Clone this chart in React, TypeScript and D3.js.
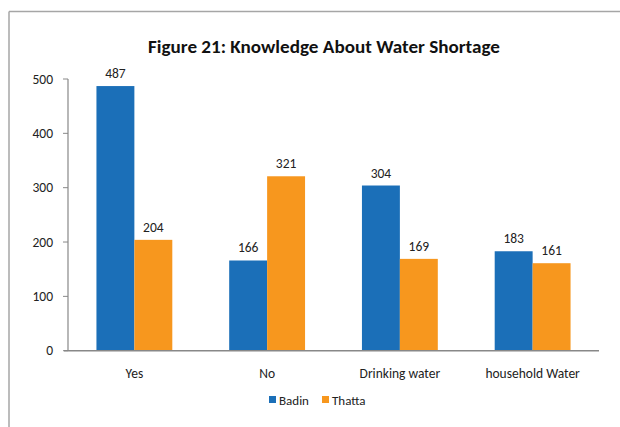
import React from "react";
import * as d3 from "d3";

const categories = ["Yes", "No", "Drinking water", "household Water"];
const seriesNames = ["Badin", "Thatta"];
const badin = [487, 166, 304, 183];
const thatta = [204, 321, 169, 161];
const yTicks = [0, 100, 200, 300, 400, 500];
const colors = ["#1b6fb8", "#f7971e"];
const title = "Figure 21: Knowledge About Water Shortage";

export default function App() {
  const W = 620, H = 427;
  const x0 = 68, x1 = 599, yTop = 79, yBot = 350.7;
  const x = d3.scaleBand<string>().domain(categories).range([x0, x1]);
  const y = d3.scaleLinear().domain([0, 500]).range([yBot, yTop]);
  const bw = x.bandwidth() / 3.5;
  const series = [badin, thatta];
  const font = "Carlito, Calibri, 'Open Sans', 'Noto Sans', sans-serif";
  return (
    <svg width={W} height={H} style={{ position: "absolute", left: 0, top: 0 }} fontFamily={font}>
      <rect x={0} y={0} width={W} height={H} fill="#fff" />
      <line x1={9} y1={11.5} x2={W} y2={11.5} stroke="#a6a6a6" strokeWidth={1.5} />
      <line x1={9} y1={11.5} x2={9} y2={H} stroke="#a6a6a6" strokeWidth={1.5} />
      <text x={324} y={53} textAnchor="middle" fontSize={18} fontWeight="bold" fill="#111"
        textLength={352} lengthAdjust="spacingAndGlyphs">{title}</text>
      {yTicks.map((t) => (
        <g key={t}>
          <line x1={63} x2={x0} y1={y(t)} y2={y(t)} stroke="#888" />
          <text x={53} y={y(t) + 4.5} textAnchor="end" fontSize={13.5} fill="#222">{t}</text>
        </g>
      ))}
      {categories.map((c, i) => {
        const cx = (x(c) as number) + x.bandwidth() / 2;
        return (
          <g key={c}>
            {series.map((s, j) => {
              const bx = cx - bw + j * bw;
              return (
                <g key={j}>
                  <rect x={bx} y={y(s[i])} width={bw} height={yBot - y(s[i])} fill={colors[j]} />
                  <text x={bx + bw / 2} y={y(s[i]) - 8} textAnchor="middle" fontSize={13.5} fill="#222">{s[i]}</text>
                </g>
              );
            })}
            <text x={cx} y={378} textAnchor="middle" fontSize={13.5} fill="#222">{c}</text>
          </g>
        );
      })}
      <line x1={x0} x2={x0} y1={yTop} y2={yBot} stroke="#888" strokeWidth={1.2} />
      <line x1={x0 - 4} x2={x1} y1={yBot} y2={yBot} stroke="#888" strokeWidth={1.5} />
      {seriesNames.map((n, j) => {
        const lx = j === 0 ? 269 : 322;
        return (
          <g key={n}>
            <rect x={lx} y={396} width={7} height={7} fill={colors[j]} />
            <text x={lx + 10} y={404.5} fontSize={13} fill="#222">{n}</text>
          </g>
        );
      })}
    </svg>
  );
}
